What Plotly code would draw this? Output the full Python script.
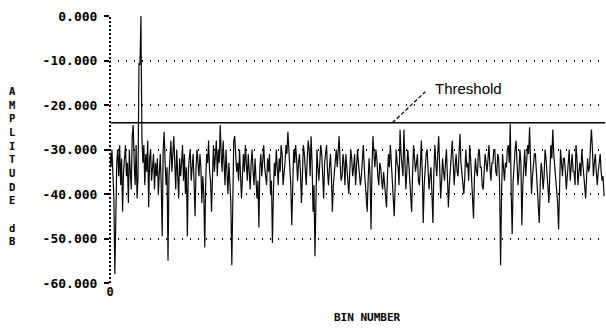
import plotly.graph_objects as go

# Spectrum amplitude per FFT bin (dB), 512 bins
amplitude_db = [
    -31, -34, -30, -37, -41, -58, -43, -33, -30, -36, -29, -38, -32, -44, -35, -31,
    -29, -36, -33, -42, -30, -35, -39, -27, -24.5, -33, -38, -29, -41, -36, -10.5, -11,
    0, -27, -33, -29, -38, -31, -35, -28, -43, -32, -30, -37, -34, -31, -39, -33,
    -36, -32, -40, -35, -31, -38, -49.5, -30, -26, -33, -38, -34, -55, -36, -30, -28,
    -35, -31, -27, -33, -39, -30, -35, -41, -32, -36, -33, -29, -37, -31, -40, -34,
    -49.5, -35, -32, -30, -37, -33, -31, -38, -45, -34, -30, -33, -36, -31, -34, -42,
    -36, -40, -52, -37, -31, -33, -28, -35, -37, -44, -32, -29, -35, -31, -28, -36,
    -30, -33, -24.5, -31, -35, -28, -33, -38, -30, -36, -40, -33, -37, -42, -56, -38,
    -28, -27, -32, -35, -33, -37, -30, -34, -41, -36, -31, -35, -29, -33, -37, -31,
    -36, -39, -33, -30, -35, -38, -32, -36, -41, -37, -47.5, -34, -31, -36, -33, -29,
    -34, -37, -38, -32, -35, -31, -40, -37, -51, -40, -33, -36, -30, -34, -38, -32,
    -35, -29, -31, -38, -36, -33, -29, -31, -26, -30, -34, -38, -47, -35, -30, -33,
    -29, -32, -37, -33, -31, -35, -42, -36, -29, -31, -35, -38, -32, -28, -30, -36,
    -27, -33, -44, -38, -54, -37, -30, -34, -37, -33, -29, -31, -36, -41, -33, -30,
    -29, -35, -38, -34, -31, -36, -44, -38, -35, -32, -30, -34, -29, -27, -33, -37,
    -36, -31, -33, -38, -31, -35, -37, -40, -35, -30, -32, -36, -34, -31, -38, -35,
    -30, -33, -35, -38, -36, -32, -29, -34, -38, -41, -44, -37, -32, -36, -48, -34,
    -27, -31, -34, -30, -32, -36, -38, -33, -34, -37, -39, -35, -38, -42, -43, -36,
    -31, -34, -29, -33, -37, -40, -45, -38, -30, -33, -34, -38, -25.5, -31, -33, -36,
    -25.5, -32, -39, -35, -30, -33, -36, -40, -44, -35, -29, -32, -35, -33, -31, -37,
    -38, -34, -28, -35, -46.5, -38, -33, -31, -30, -35, -39, -36, -34, -40, -46.5, -35,
    -29, -33, -36, -31, -27, -34, -41, -37, -32, -35, -37, -33, -30, -36, -43, -38,
    -34, -30, -28, -33, -38, -34, -31, -35, -36, -31, -26.5, -33, -35, -38, -40, -36,
    -30, -34, -33, -37, -29, -32, -38, -41, -45.5, -36, -32, -35, -36, -31, -30, -34,
    -34, -38, -39, -35, -31, -33, -35, -32, -29, -34, -37, -33, -33, -30, -30, -35,
    -36, -31, -32, -38, -56, -40, -31, -34, -37, -33, -34, -30, -29, -33, -24.2, -40,
    -49, -37, -32, -30, -28, -34, -38, -35, -30, -33, -47, -38, -33, -30, -36, -33,
    -29, -31, -25, -33, -40, -36, -34, -31, -31, -35, -37, -40, -46.5, -38, -33, -35,
    -39, -36, -30, -32, -36, -40, -42, -35, -29, -32, -25.5, -31, -34, -37, -38, -42,
    -48, -39, -30, -33, -36, -32, -32, -35, -39, -36, -33, -30, -37, -34, -31, -35,
    -35, -38, -29, -32, -38, -35, -33, -36, -30, -33, -36, -39, -41, -36, -32, -35,
    -34, -29, -25.5, -30, -36, -33, -31, -35, -38, -35, -33, -31, -35, -37, -36, -40.5,
]
bins = list(range(len(amplitude_db)))
N_BINS = 512

# Axis ticks
y_tick_values = [0, -10, -20, -30, -40, -50, -60]
y_tick_labels = ["0.000", "-10.000", "-20.000", "-30.000", "-40.000", "-50.000", "-60.000"]
x_tick_values = [0]
x_tick_labels = ["0"]

# Detection threshold and where its label leader touches the line
THRESHOLD_DB = -24
LEADER_BIN = 292

MONO = "DejaVu Sans Mono"
SANS = "Liberation Sans, Arial, sans-serif"

fig = go.Figure()
fig.add_trace(go.Scatter(
    x=bins, y=amplitude_db, mode="lines",
    line=dict(color="#0a0a0a", width=1.2),
    hoverinfo="skip", showlegend=False,
))

shapes = [
    # dotted vertical axis
    dict(type="line", xref="paper", yref="paper", x0=0, x1=0, y0=0, y1=1,
         line=dict(color="black", width=2, dash="2px,2px")),
    # threshold
    dict(type="line", xref="paper", yref="y", x0=0, x1=1,
         y0=THRESHOLD_DB, y1=THRESHOLD_DB,
         line=dict(color="black", width=1.5)),
    # leader from label to threshold
    dict(type="line", xref="x", yref="y",
         xsizemode="pixel", ysizemode="pixel",
         xanchor=LEADER_BIN, yanchor=THRESHOLD_DB,
         x0=0, x1=33, y0=0, y1=31,
         line=dict(color="black", width=1.2, dash="4px,2px")),
]

annotations = [
    dict(text="Threshold", xref="x", yref="y", x=LEADER_BIN, y=THRESHOLD_DB,
         xanchor="left", yanchor="middle", xshift=41, yshift=34,
         showarrow=False, font=dict(family=SANS, size=15, color="black")),
    dict(text="BIN NUMBER", xref="paper", yref="paper", x=0.521, y=0,
         xanchor="center", yanchor="middle", yshift=-34,
         showarrow=False,
         font=dict(family=MONO, size=11, color="black", weight="bold")),
    dict(text="<br>".join(list("AMPLITUDE")) + "<br><br>d<br>B",
         xref="paper", yref="paper", x=0, y=0.44,
         xanchor="center", yanchor="middle", xshift=-98,
         showarrow=False,
         font=dict(family=MONO, size=10.5, color="black", weight="bold")),
]

fig.update_layout(
    width=606, height=331,
    margin=dict(l=110, r=1, t=16, b=48),
    paper_bgcolor="white", plot_bgcolor="white",
    shapes=shapes, annotations=annotations,
    xaxis=dict(
        range=[0, N_BINS], showgrid=False, zeroline=False, showline=False,
        tickvals=x_tick_values, ticktext=x_tick_labels, ticks="",
        tickfont=dict(family=MONO, size=12, color="black", weight="bold"),
    ),
    yaxis=dict(
        range=[-60, 0], showgrid=True, gridcolor="black", gridwidth=1.5,
        griddash="1px,7px", zeroline=False, showline=False,
        tickvals=y_tick_values, ticktext=y_tick_labels,
        ticks="outside", ticklen=5, tickwidth=2, tickcolor="black",
        ticklabelstandoff=4,
        tickfont=dict(family=MONO, size=13, color="black", weight="bold"),
    ),
)

fig.write_html("out.html")
